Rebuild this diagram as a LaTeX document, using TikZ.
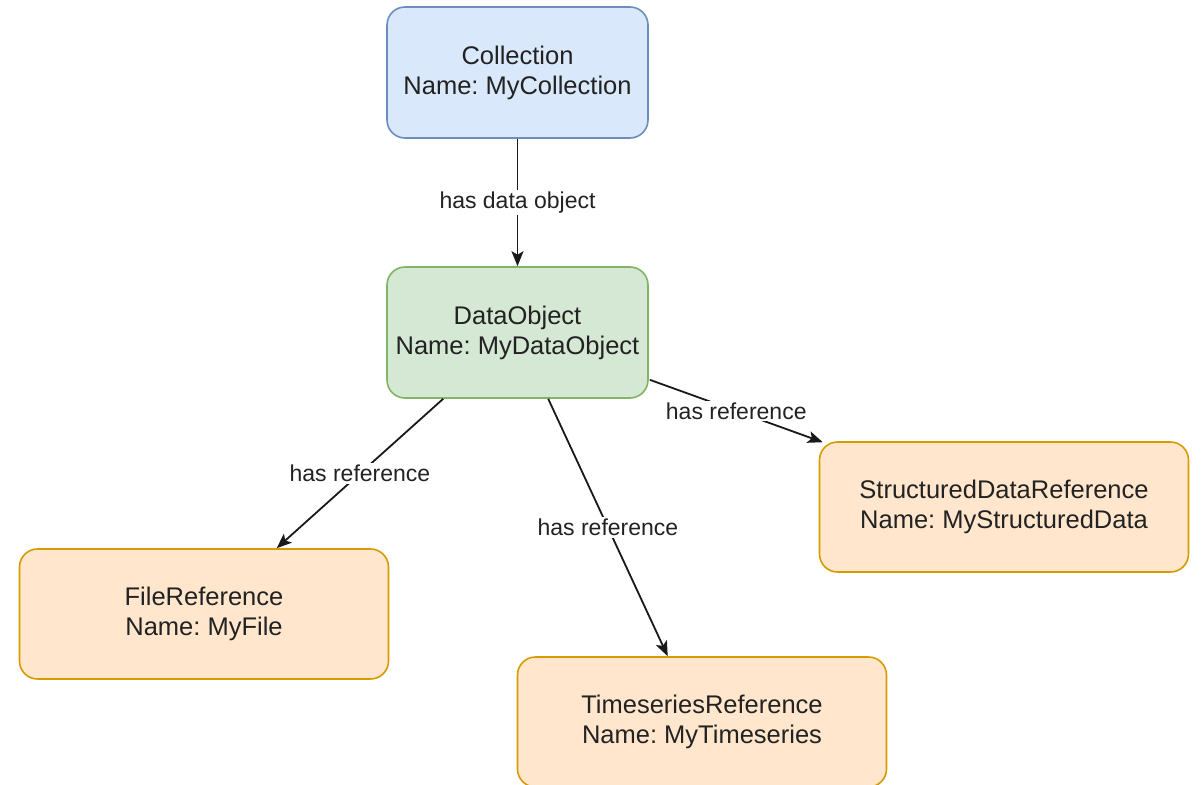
\documentclass[tikz,border=0pt]{standalone}
\usepackage{fontspec}
\setmainfont{Liberation Sans}
\usetikzlibrary{arrows.meta}
\frenchspacing
\definecolor{bluefill}{HTML}{DAE8FC}
\definecolor{blueline}{HTML}{6C8EBF}
\definecolor{greenfill}{HTML}{D5E8D4}
\definecolor{greenline}{HTML}{82B366}
\definecolor{orangefill}{HTML}{FFE6CC}
\definecolor{orangeline}{HTML}{D79B00}
\definecolor{txt}{HTML}{222222}
\tikzset{
  box/.style={rounded corners=18pt, line width=1.6pt, align=center, text=txt,
    font=\fontsize{25.5}{30}\selectfont, inner sep=0pt},
  bluebox/.style={box, fill=bluefill, draw=blueline, minimum width=261pt, minimum height=131pt},
  greenbox/.style={box, fill=greenfill, draw=greenline, minimum width=261pt, minimum height=131pt},
  orangebox/.style={box, fill=orangefill, draw=orangeline, minimum width=369pt, minimum height=130pt},
  conn/.style={line width=1.8pt, draw=black!90, -{Stealth[length=15pt,width=12pt,inset=3.5pt]}},
  lbl/.style={fill=white, text=txt, font=\fontsize{23}{26}\selectfont, inner sep=2pt}
}
\begin{document}
\begin{tikzpicture}[x=1pt,y=-1pt]
\useasboundingbox (0,0) rectangle (1201,784);
\node[bluebox] (c) at (517.5,72.5) {Collection\\Name: MyCollection};
\node[greenbox] (d) at (517.5,332.5) {DataObject\\Name: MyDataObject};
\node[orangebox] (f) at (204,614) {FileReference\\Name: MyFile};
\node[orangebox] (t) at (702,722) {TimeseriesReference\\Name: MyTimeseries};
\node[orangebox] (s) at (1004,507) {StructuredDataReference\\Name: MyStructuredData};
\draw[conn] (c.south) -- node[lbl] {has data object} (d.north);
\draw[conn] ([xshift=57pt]d.south west) -- node[lbl] {has reference} ([xshift=258pt]f.north west);
\draw[conn] ([xshift=162pt]d.south west) -- node[lbl] {has reference} ([xshift=151pt]t.north west);
\draw[conn] ([xshift=1pt,yshift=19pt]d.south east) -- node[lbl] {has reference} ([xshift=4pt,yshift=-1pt]s.north west);
\end{tikzpicture}
\end{document}
